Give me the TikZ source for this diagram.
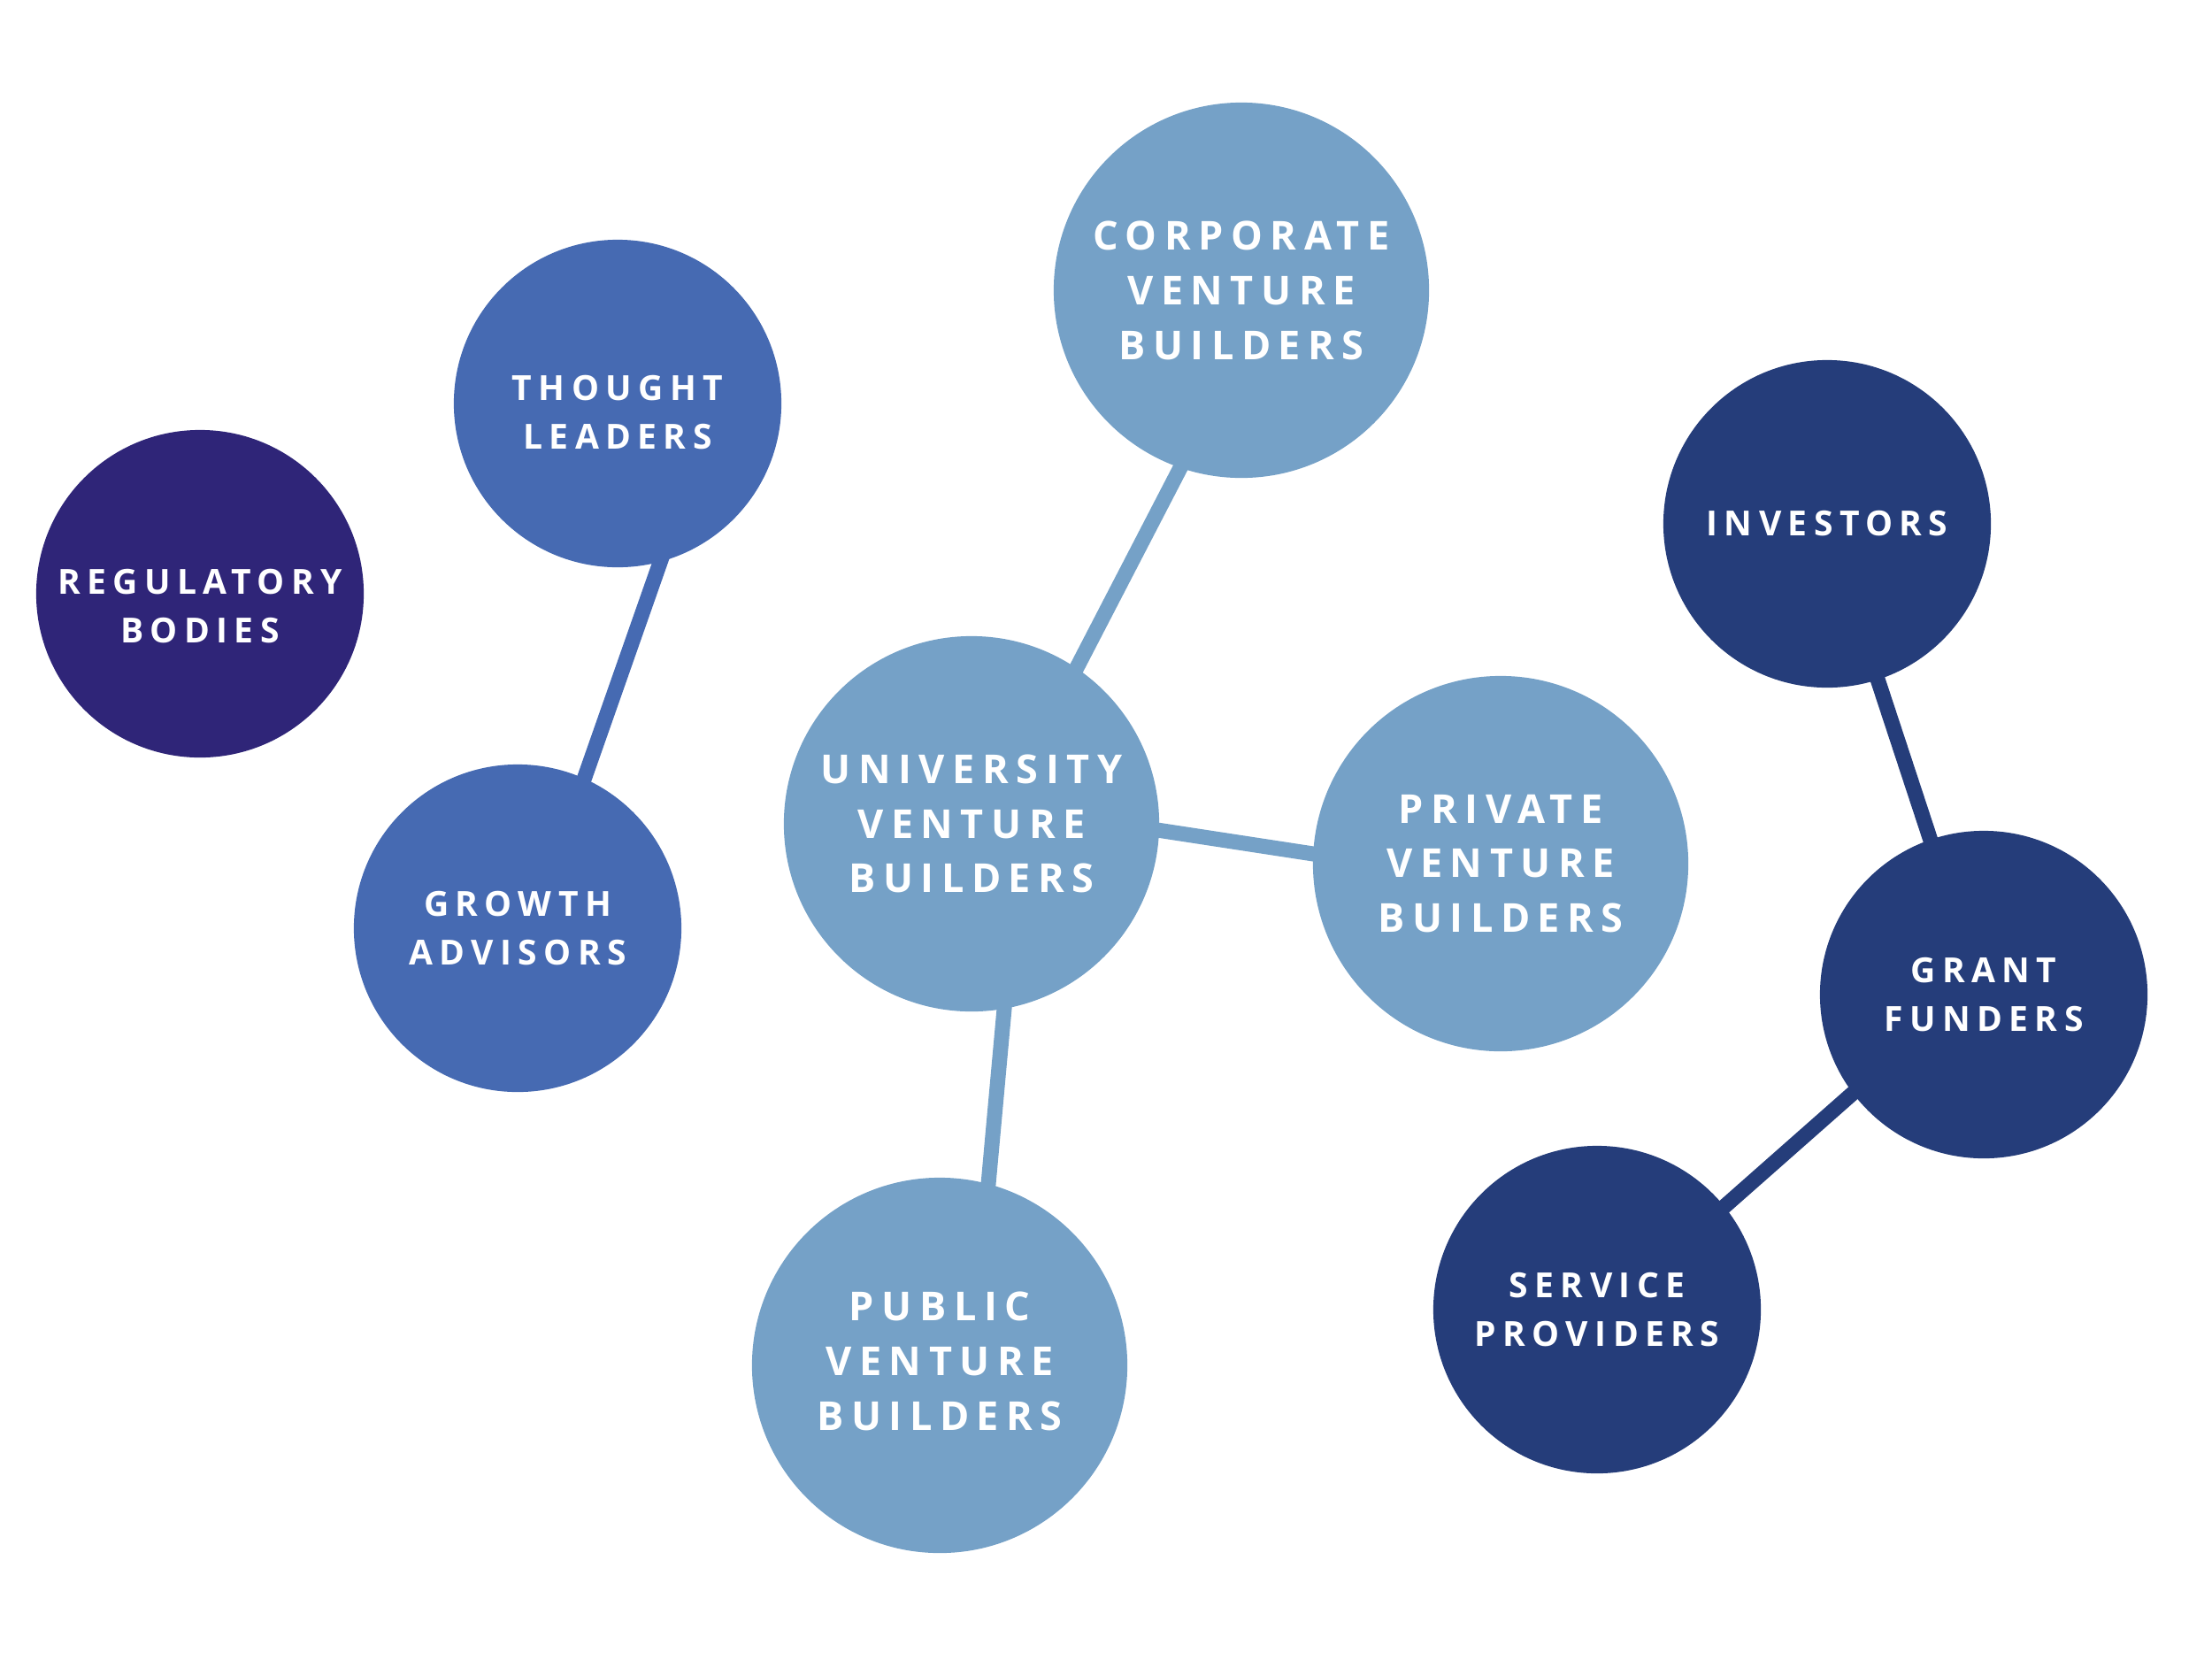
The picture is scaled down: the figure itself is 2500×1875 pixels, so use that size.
\documentclass[tikz,border=0pt]{standalone}
\usepackage{fontspec}
\usetikzlibrary{backgrounds}
\newfontfamily\lbl{Open Sans}[LetterSpace=19]
\definecolor{lightb}{RGB}{117,161,199}
\definecolor{midb}{RGB}{70,106,178}
\definecolor{navyb}{RGB}{37,61,122}
\definecolor{regb}{RGB}{47,37,120}
\begin{document}
\begin{tikzpicture}[x=0.01cm,y=-0.01cm,
  bub/.style={circle,inner sep=0pt,text=white,align=center},
  bigfont/.style={font=\lbl\bfseries\fontsize{12.8}{17.6}\selectfont},
  smallfont/.style={font=\lbl\bfseries\fontsize{11.1}{15.4}\selectfont},
  big/.style={bub,minimum size=4.24cm,bigfont},
  small/.style={bub,minimum size=3.70cm,smallfont},
  txt/.style={inner sep=0pt,text=white,align=center},
  link/.style={line width=0.17cm,shorten <=-12pt,shorten >=-12pt}]
\useasboundingbox (0,0) rectangle (2500,1875);
\node[big,fill=lightb] (corp) at (1403,328) {CORPORATE\\VENTURE\\BUILDERS};
\node[big,fill=lightb] (univ) at (1098,931) {UNIVERSITY\\VENTURE\\BUILDERS};
\node[big,fill=lightb] (priv) at (1696,976) {PRIVATE\\VENTURE\\BUILDERS};
\node[big,fill=lightb] (pub) at (1062,1543) {};
\node[txt,bigfont] (pubt) at (1062,1538) {PUBLIC\\VENTURE\\BUILDERS};
\node[small,fill=midb] (thought) at (698,456) {};
\node[txt,smallfont] (thoughtt) at (698,466) {THOUGHT\\LEADERS};
\node[small,fill=regb] (reg) at (226,671) {};
\node[txt,smallfont] (regt) at (226,685) {REGULATORY\\BODIES};
\node[small,fill=midb] (growth) at (585,1049) {GROWTH\\ADVISORS};
\node[small,fill=navyb] (inv) at (2065,592) {INVESTORS};
\node[small,fill=navyb] (grant) at (2242,1124) {GRANT\\FUNDERS};
\node[small,fill=navyb] (serv) at (1805,1480) {SERVICE\\PROVIDERS};
\begin{pgfonlayer}{background}
\draw[link,lightb] (corp.251.6) -- (univ.56.6);
\draw[link,lightb] (univ.-2.2) -- (priv.177.3);
\draw[link,lightb] (univ.-80.9) -- (pub.75.2);
\draw[link,midb] (thought.-75.7) -- (growth.66.9);
\draw[link,navyb] (inv.-72.3) -- (grant.109);
\draw[link,navyb] (grant.217.7) -- (serv.39.2);
\end{pgfonlayer}
\end{tikzpicture}
\end{document}
